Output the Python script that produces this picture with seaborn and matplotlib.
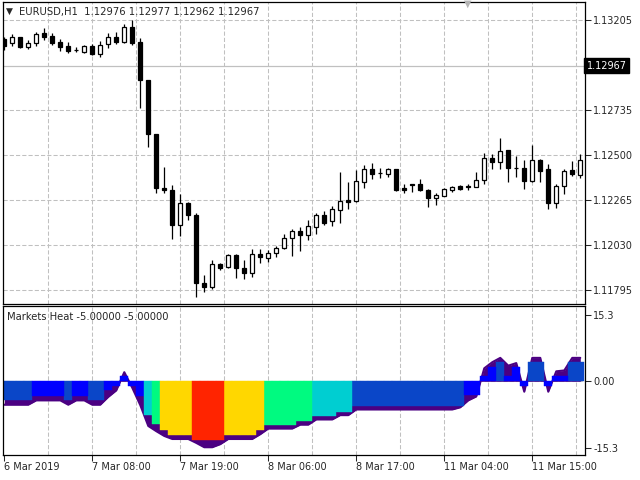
import matplotlib
matplotlib.use("Agg")
import matplotlib.pyplot as plt
import matplotlib.transforms as mtransforms
import numpy as np
import pandas as pd
import seaborn as sns

# ---- EURUSD H1 candles ----
opens = [1.13104, 1.13083, 1.13115, 1.13065, 1.13083, 1.13136, 1.13122, 1.13092, 1.13069, 1.13048,
         1.13039, 1.13069, 1.13026, 1.13078, 1.13115, 1.13092, 1.13167, 1.13092, 1.12891, 1.12607,
         1.12329, 1.12319, 1.12136, 1.12251, 1.12184, 1.11830, 1.11809, 1.11931, 1.11914, 1.11978,
         1.11910, 1.11884, 1.11984, 1.11963, 1.11989, 1.12015, 1.12068, 1.12101, 1.12083, 1.12123,
         1.12184, 1.12153, 1.12214, 1.12263, 1.12259, 1.12359, 1.12429, 1.12406, 1.12403, 1.12425,
         1.12326, 1.12350, 1.12347, 1.12319, 1.12275, 1.12287, 1.12317, 1.12338, 1.12336, 1.12332,
         1.12371, 1.12486, 1.12463, 1.12525, 1.12434, 1.12434, 1.12364, 1.12472, 1.12424, 1.12249,
         1.12336, 1.12420, 1.12397]
highs = [1.13118, 1.13130, 1.13116, 1.13101, 1.13144, 1.13162, 1.13136, 1.13106, 1.13089, 1.13062,
         1.13074, 1.13078, 1.13097, 1.13136, 1.13141, 1.13184, 1.13205, 1.13109, 1.12891, 1.12607,
         1.12437, 1.12341, 1.12298, 1.12256, 1.12196, 1.11875, 1.11949, 1.11937, 1.11984, 1.11984,
         1.11949, 1.12006, 1.12006, 1.12001, 1.12024, 1.12088, 1.12115, 1.12123, 1.12158, 1.12198,
         1.12205, 1.12231, 1.12411, 1.12359, 1.12420, 1.12446, 1.12460, 1.12432, 1.12434, 1.12429,
         1.12350, 1.12350, 1.12376, 1.12324, 1.12301, 1.12327, 1.12336, 1.12341, 1.12350, 1.12411,
         1.12510, 1.12504, 1.12586, 1.12525, 1.12493, 1.12476, 1.12551, 1.12481, 1.12451, 1.12350,
         1.12429, 1.12467, 1.12504]
lows = [1.13048, 1.13069, 1.13060, 1.13055, 1.13069, 1.13101, 1.13074, 1.13045, 1.13031, 1.13036,
        1.13034, 1.13022, 1.13013, 1.13057, 1.13078, 1.13083, 1.13074, 1.12748, 1.12542, 1.12301,
        1.12301, 1.12062, 1.12076, 1.12158, 1.11760, 1.11783, 1.11800, 1.11900, 1.11908, 1.11856,
        1.11853, 1.11861, 1.11937, 1.11940, 1.11966, 1.12006, 1.11971, 1.11997, 1.12057, 1.12088,
        1.12136, 1.12128, 1.12146, 1.12216, 1.12254, 1.12327, 1.12373, 1.12380, 1.12385, 1.12310,
        1.12301, 1.12306, 1.12310, 1.12228, 1.12240, 1.12284, 1.12306, 1.12319, 1.12319, 1.12332,
        1.12347, 1.12425, 1.12424, 1.12359, 1.12385, 1.12320, 1.12359, 1.12359, 1.12216, 1.12222,
        1.12298, 1.12388, 1.12382]
closes = [1.13069, 1.13118, 1.13062, 1.13086, 1.13130, 1.13118, 1.13086, 1.13065, 1.13045, 1.13047,
          1.13069, 1.13026, 1.13074, 1.13115, 1.13089, 1.13167, 1.13086, 1.12891, 1.12607, 1.12327,
          1.12319, 1.12132, 1.12251, 1.12188, 1.11830, 1.11809, 1.11931, 1.11910, 1.11978, 1.11910,
          1.11884, 1.11984, 1.11966, 1.11989, 1.12015, 1.12068, 1.12101, 1.12083, 1.12128, 1.12184,
          1.12146, 1.12216, 1.12258, 1.12254, 1.12362, 1.12429, 1.12403, 1.12405, 1.12424, 1.12315,
          1.12319, 1.12345, 1.12319, 1.12275, 1.12289, 1.12320, 1.12331, 1.12324, 1.12335, 1.12371,
          1.12486, 1.12463, 1.12521, 1.12432, 1.12433, 1.12364, 1.12476, 1.12416, 1.12249, 1.12336,
          1.12418, 1.12403, 1.12476]

# ---- Markets Heat indicator ----
heat = [-4.4, -4.4, -4.4, -4.4, -3.5, -3.5, -3.5, -3.5, -4.4, -3.5,
        -3.5, -4.4, -4.4, -2.1, -1.1, 1.15, -1.15, -3.3, -7.8, -9.9,
        -11.3, -12.4, -12.4, -12.4, -13.6, -13.6, -13.6, -13.6, -12.4, -12.4,
        -12.4, -12.4, -11.3, -10.0, -10.0, -10.0, -10.0, -9.1, -9.1, -8.0,
        -8.0, -8.0, -7.05, -7.05, -5.75, -5.75, -5.75, -5.75, -5.75, -5.75,
        -5.75, -5.75, -5.75, -5.75, -5.75, -5.75, -5.75, -5.75, -3.1, -3.1,
        1.15, 3.3, 4.4, 1.15, 3.3, -1.15, 4.4, 4.4, -1.15, 1.15,
        1.15, 4.4, 4.4]
zone = ["db", "db", "db", "db", "bb", "bb", "bb", "bb", "db", "bb",
        "bb", "db", "db", "bb", "bb", "bb", "bb", "bb", "cy", "gr",
        "ye", "ye", "ye", "ye", "rd", "rd", "rd", "rd", "ye", "ye",
        "ye", "ye", "ye", "gr", "gr", "gr", "gr", "gr", "gr", "cy",
        "cy", "cy", "cy", "cy", "db", "db", "db", "db", "db", "db",
        "db", "db", "db", "db", "db", "db", "db", "db", "bb", "bb",
        "bb", "bb", "db", "bb", "bb", "bb", "db", "db", "bb", "bb",
        "bb", "db", "db"]
heat_smooth = [-5.4, -5.4, -5.4, -5.4, -4.4, -4.4, -4.4, -4.4, -5.4, -4.4,
               -4.4, -5.4, -5.4, -3.6, -2.1, 2.1, -1.5, -5.5, -10.3, -11.5,
               -12.6, -13.3, -13.3, -13.3, -14.2, -15.2, -15.2, -14.5, -13.3, -13.3,
               -13.3, -13.3, -12.2, -10.9, -10.9, -10.9, -10.9, -10.0, -10.0, -8.8,
               -8.8, -8.8, -7.8, -7.8, -6.5, -6.5, -6.5, -6.5, -6.5, -6.5,
               -6.5, -6.5, -6.5, -6.5, -6.5, -6.5, -6.5, -6.0, -4.4, -3.5,
               3.0, 4.4, 5.4, 3.6, 4.2, -2.4, 5.4, 5.4, -2.4, 2.3,
               2.5, 5.4, 5.4]
zone_colors = {"db": "#0A46C8", "bb": "#0000FF", "cy": "#00CED1",
               "gr": "#00FA80", "ye": "#FFD700", "rd": "#FF2400"}

time_ticks = [0, 11, 22, 33, 44, 55, 66]
time_labels = ["6 Mar 2019", "7 Mar 08:00", "7 Mar 19:00", "8 Mar 06:00",
               "8 Mar 17:00", "11 Mar 04:00", "11 Mar 15:00"]
price_ticks = [1.11795, 1.12030, 1.12265, 1.12500, 1.12735, 1.13205]
bid = 1.12967
heat_ticks = [-15.3, 0.0, 15.3]

sns.set_style("white")
plt.rcParams["font.family"] = ["DejaVu Sans"]

W, H = 640, 480
fig = plt.figure(figsize=(6.4, 4.8), dpi=100)
ax1 = fig.add_axes([3 / W, 1 - 303.5 / H, 582 / W, 301.5 / H])
ax2 = fig.add_axes([3 / W, 1 - 455 / H, 582 / W, 149 / H])

bars = np.arange(len(opens))
xlim = (-0.1625, 72.59)
vgrid = [5.5 * k for k in range(1, 14)]
grid_kw = dict(color="#C0C0C0", lw=0.75, linestyle=(0, (4, 2)), zorder=0)

# ============================================
# PRICE PANEL
# ============================================
for x in vgrid:
    ax1.axvline(x, **grid_kw)
for p in price_ticks:
    ax1.axhline(p, **grid_kw)
ax1.axhline(bid, color="#C0C0C0", lw=0.9, zorder=0)

o = np.array(opens)
c = np.array(closes)
up = c >= o
ax1.vlines(bars, lows, highs, color="black", lw=0.9, zorder=2)
ax1.bar(bars, c - o, bottom=o, width=0.55,
        color=np.where(up, "white", "black"), edgecolor="black", linewidth=0.9, zorder=3)

ax1.set_xlim(*xlim)
ax1.set_ylim(1.117235, 1.132995)
ax1.yaxis.tick_right()
ax1.set_yticks(price_ticks)
ax1.set_yticklabels([f"{p:.5f}" for p in price_ticks])
ax1.tick_params(axis="y", length=4, width=0.75, direction="out", labelsize=7, pad=2, right=True)
ax1.set_xticks([])

ax1.text(1.003, bid, "1.12967", transform=mtransforms.blended_transform_factory(ax1.transAxes, ax1.transData),
         color="white", fontsize=7, va="center", ha="left",
         bbox=dict(boxstyle="square,pad=0.25", facecolor="black", edgecolor="black"))

# ============================================
# MARKETS HEAT PANEL
# ============================================
for x in vgrid:
    ax2.axvline(x, **grid_kw)
ax2.axhline(0, **grid_kw)

ax2.fill_between(bars, 0, heat_smooth, color="#4B0082", lw=0, zorder=1)
sns.lineplot(x=bars, y=heat_smooth, color="#4B0082", linewidth=1.5, ax=ax2, zorder=1)

heat_df = pd.DataFrame({"bar": bars, "heat": heat, "zone": zone})
sns.barplot(data=heat_df, x="bar", y="heat", hue="zone", palette=zone_colors,
            dodge=False, width=1.0, native_scale=True, saturation=1, legend=False,
            errorbar=None, ax=ax2)
for patch in ax2.patches:
    patch.set_edgecolor(patch.get_facecolor())
    patch.set_linewidth(0.3)
    patch.set_zorder(2)

ax2.set_xlim(*xlim)
ax2.set_ylim(-16.99, 17.36)
ax2.set_xlabel("")
ax2.set_ylabel("")
ax2.yaxis.tick_right()
ax2.set_yticks(heat_ticks)
ax2.set_yticklabels(["-15.3", "0.00", "15.3"])
ax2.set_xticks(time_ticks)
ax2.set_xticklabels(time_labels)
for lab in ax2.get_xticklabels():
    lab.set_ha("left")
ax2.tick_params(axis="y", length=4, width=0.75, direction="out", labelsize=7, pad=2, right=True)
ax2.tick_params(axis="x", length=4, width=0.75, direction="out", labelsize=7, pad=1, bottom=True)

for ax in (ax1, ax2):
    for s in ax.spines.values():
        s.set_color("black")
        s.set_linewidth(0.9)
        s.set_visible(True)

# ============================================
# TEXTS
# ============================================
fig.text(6 / W, 1 - 11 / H, "\u25BC", fontsize=6.5, va="center", ha="left")
fig.text(19 / W, 1 - 11.5 / H, "EURUSD,H1  1.12976 1.12977 1.12962 1.12967",
         fontsize=7.2, va="center", ha="left")
fig.text(7 / W, 1 - 316.5 / H, "Markets Heat -5.00000 -5.00000",
         fontsize=7.2, va="center", ha="left")
fig.text(468 / W, 1 - 4 / H, "\u25BC", fontsize=7, color="#B4B4B4", va="center", ha="center")

fig.savefig("out.png", dpi=100)
